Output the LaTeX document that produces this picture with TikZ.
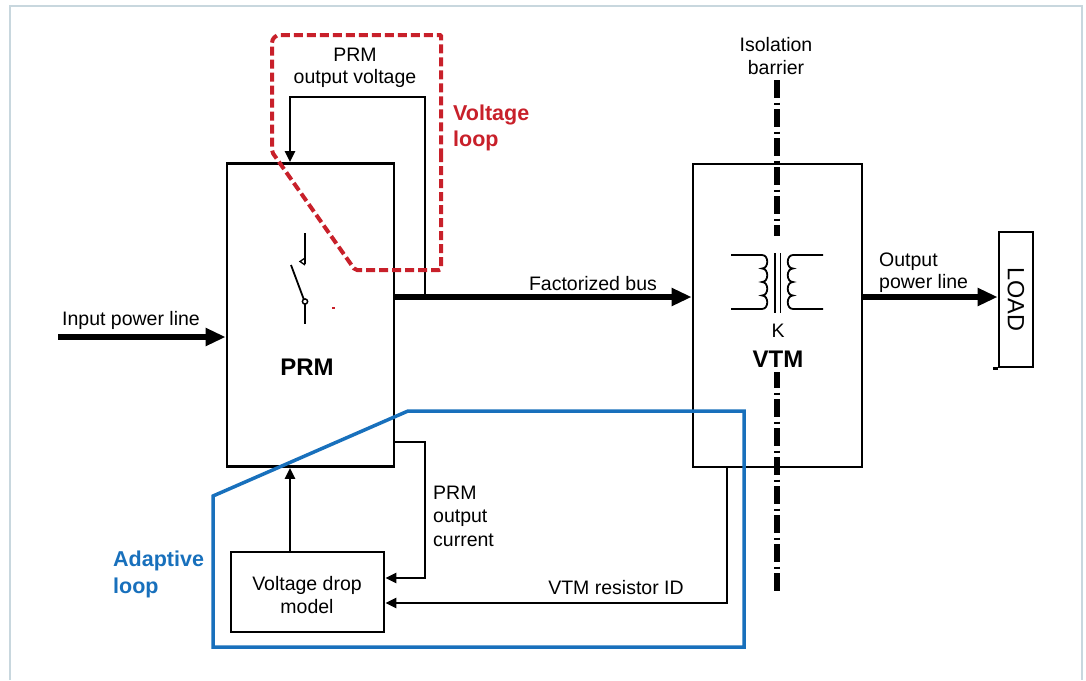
\documentclass[tikz,border=0pt]{standalone}
\usepackage{fontspec}
\setmainfont{Liberation Sans}
\usetikzlibrary{arrows.meta}
\definecolor{loopred}{RGB}{200,32,42}
\definecolor{loopblue}{RGB}{24,112,188}
\definecolor{framecol}{RGB}{200,215,222}
\begin{document}
\begin{tikzpicture}[x=1pt,y=-1pt,
  lbl/.style={font=\fontsize{19.5}{23}\selectfont, inner sep=0pt, anchor=base},
  lblb/.style={font=\bfseries\fontsize{24}{28}\selectfont, inner sep=0pt, anchor=base},
  looplbl/.style={font=\bfseries\fontsize{21.5}{25}\selectfont, inner sep=0pt, anchor=base west},
  box/.style={draw, line width=2.7pt, inner sep=0pt},
  wire/.style={line width=2.4pt},
  wirearrow/.style={wire, -{Triangle[length=11pt,width=10pt]}},
  bigarrow/.style={line width=6.5pt, -{Triangle[length=20pt,width=17pt]}},
  redloop/.style={draw=loopred, line width=4pt, dash pattern=on 9pt off 4pt},
  blueloop/.style={draw=loopblue, line width=3.5pt, line join=miter},
  symb/.style={line width=1.8pt},
]
\useasboundingbox (0,0) rectangle (1086,680);
% outer frame
\draw[framecol, line width=1.5pt] (10,680) -- (10,6) -- (1082,6) -- (1082,680);

% isolation barrier
\coordinate (barTop) at (777,80);
\coordinate (barBot) at (777,592);
\draw[line width=5.5pt, dash pattern=on 18pt off 4.5pt on 2pt off 4.5pt] (barTop) -- (barBot);
\fill[white] (766,236) rectangle (790,372);

% boxes
\node[box, minimum width=167pt, minimum height=303pt] (prm) at (310.5,315) {};
\node[box, minimum width=169pt, minimum height=303pt] (vtm) at (777.5,315.5) {};
\node[box, minimum width=153pt, minimum height=80pt] (vdm) at (307.5,592) {};
\node[box, minimum width=34pt, minimum height=135pt] (load) at (1016,299.5) {};
\draw[line width=2.6pt] (load.south west) -- ++(-5,0);
\node[font=\fontsize{23.5}{26}\selectfont, rotate=-90, inner sep=0pt] (loadtxt) at (load.center) {LOAD};

% labels
\node[lbl, anchor=base west] (tin) at (62,325) {Input power line};
\node[lblb] (prmlbl) at (307,375) {PRM};
\node[lbl] (pov1) at (355,61) {PRM};
\node[lbl] (pov2) at (355,83) {output voltage};
\node[looplbl, text=loopred] (vl1) at (453,120) {Voltage};
\node[looplbl, text=loopred] (vl2) at (453,146) {loop};
\node[lbl] (fbus) at (593,290) {Factorized bus};
\node[lbl, anchor=base west] (op1) at (879,266) {Output};
\node[lbl, anchor=base west] (op2) at (879,288) {power line};
\node[lbl] (klbl) at (778,337) {K};
\node[lblb] (vtmlbl) at (778,367) {VTM};
\node[lbl] (ib1) at (776,51) {Isolation};
\node[lbl] (ib2) at (776,74) {barrier};
\node[lbl, anchor=base west] (oc1) at (433,499) {PRM};
\node[lbl, anchor=base west] (oc2) at (433,522) {output};
\node[lbl, anchor=base west] (oc3) at (433,546) {current};
\node[lbl] (vd1) at (307,590) {Voltage drop};
\node[lbl] (vd2) at (307,613) {model};
\node[lbl] (vri) at (616,594) {VTM resistor ID};
\node[looplbl, text=loopblue] (al1) at (113,566) {Adaptive};
\node[looplbl, text=loopblue] (al2) at (113,593) {loop};

% power arrows
\coordinate (inStart) at (58,337);
\coordinate (busY) at (0,297);
\draw[bigarrow] (inStart) -- (inStart -| prm.west);
\draw[bigarrow] (prm.east |- busY) -- (vtm.west |- busY);
\draw[bigarrow] (vtm.east |- busY) -- (load.west |- busY);

% voltage feedback
\coordinate (tap) at (425,297);
\coordinate (fbTop) at (290,97);
\draw[wirearrow] (tap) |- (fbTop) -- (fbTop |- prm.north);

% current sense
\coordinate (curY) at (0,442);
\coordinate (curX) at (425,0);
\coordinate (curEndY) at (0,578);
\draw[wirearrow] (prm.east |- curY) -| (curX |- curEndY) -- (vdm.east |- curEndY);

% VTM resistor ID
\coordinate (ridX) at (727,0);
\coordinate (ridY) at (0,603);
\draw[wirearrow] (ridX |- vtm.south) -- (ridX |- ridY) -- (vdm.east |- ridY);

% voltage drop model to PRM
\coordinate (upX) at (290,0);
\draw[wirearrow] (upX |- vdm.north) -- (upX |- prm.south);

% switch symbol
\draw[symb] (305,233) -- (305,264);
\draw[line width=1.3pt] (305,258) -- (300,261.5) -- (305,265);
\draw[symb] (291,265) -- (303.6,298.8);
\draw[symb] (305,304) -- (305,324);
\draw[line width=1.5pt, fill=white] (305,301.5) circle[radius=2.6pt];
\fill[loopred] (332,307.3) rectangle (334.5,308.6);

% transformer
\draw[symb] (731,255) -- (762,255)
  .. controls (769,255) and (769,268.5) .. (762,268.5)
  .. controls (769,268.5) and (769,282) .. (762,282)
  .. controls (769,282) and (769,295.5) .. (762,295.5)
  .. controls (769,295.5) and (769,309) .. (762,309) -- (731,309);
\draw[symb] (823,255) -- (793,255)
  .. controls (786,255) and (786,268.5) .. (793,268.5)
  .. controls (786,268.5) and (786,282) .. (793,282)
  .. controls (786,282) and (786,295.5) .. (793,295.5)
  .. controls (786,295.5) and (786,309) .. (793,309) -- (823,309);
\draw[symb] (775,253) -- (775,313);
\draw[symb] (780.5,253) -- (780.5,313);

% loops
\draw[redloop, rounded corners=2pt] (441,152) -- (441,270) -- (355,270) -- (272,152) [rounded corners=8pt] -- (272,35) [rounded corners=1pt] -- (441,35) -- cycle;
\draw[blueloop] (213,496) -- (408,411) -- (744,411) -- (744,647) -- (213,647) -- cycle;
\end{tikzpicture}
\end{document}
